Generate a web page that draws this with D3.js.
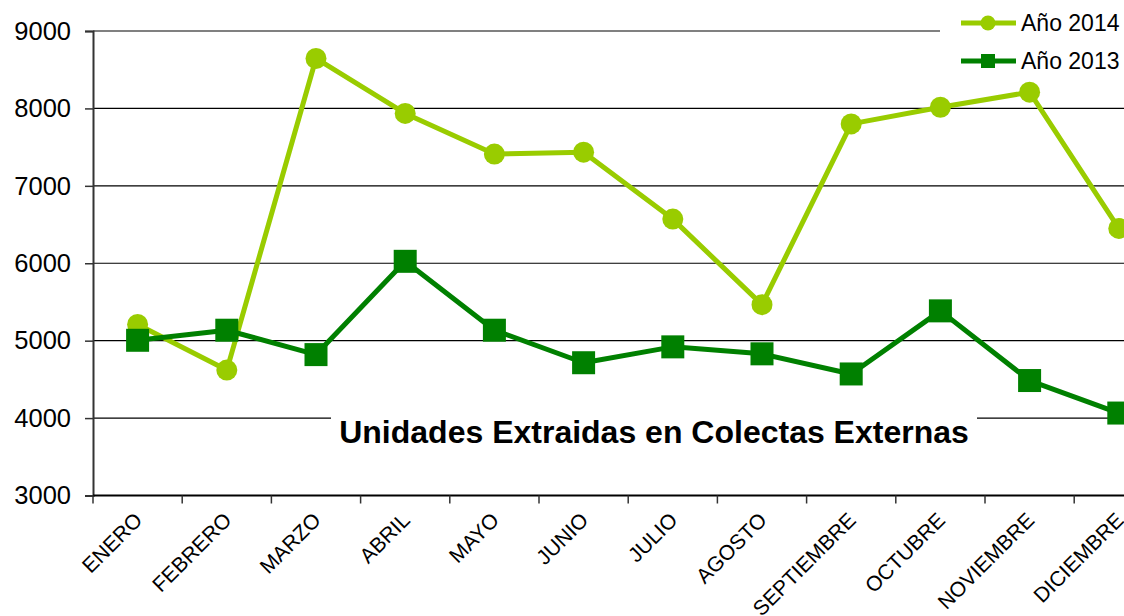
<!DOCTYPE html>
<html>
<head>
<meta charset="utf-8">
<script src="https://cdn.jsdelivr.net/npm/d3@7"></script>
<style>
  body { margin: 0; background: #fff; }
  svg { display: block; font-family: "Liberation Sans", Arial, sans-serif; }
</style>
</head>
<body>
<svg id="chart" width="1124" height="616"></svg>
<script>
var months = ['ENERO', 'FEBRERO', 'MARZO', 'ABRIL', 'MAYO', 'JUNIO', 'JULIO',
    'AGOSTO', 'SEPTIEMBRE', 'OCTUBRE', 'NOVIEMBRE', 'DICIEMBRE'];
var values2014 = [5210, 4620, 8645, 7935, 7410, 7435, 6570, 5465, 7800, 8015, 8210, 6450];
var values2013 = [5005, 5135, 4820, 6025, 5135, 4715, 4920, 4830, 4570, 5385, 4485, 4065];
var yTicks = [3000, 4000, 5000, 6000, 7000, 8000, 9000];
var seriesNames = ['Año 2014', 'Año 2013'];
var chartTitle = 'Unidades Extraidas en Colectas Externas';

var LIGHT = '#99cc00', DARK = '#008000';

var svg = d3.select('#chart');

var x = d3.scaleBand()
    .domain(months)
    .range([93, 93 + 12 * 89.2]);

var y = d3.scaleLinear()
    .domain([3000, 9000])
    .range([495.5, 31]);

// grid lines (the top one is grey and stops before the legend)
svg.append('g')
    .selectAll('line')
    .data(yTicks.filter(d => d > 3000))
    .enter()
    .append('line')
    .attr('x1', 93)
    .attr('x2', d => d === 9000 ? 940 : 1124)
    .attr('y1', d => y(d))
    .attr('y2', d => y(d))
    .attr('stroke', d => d === 9000 ? '#808080' : '#000')
    .attr('stroke-width', d => d === 9000 ? 2 : 1.2);

// y axis
var yAxis = d3.axisLeft(y)
    .tickValues(yTicks)
    .tickSize(8)
    .tickFormat(d3.format('d'));

var yG = svg.append('g')
    .attr('transform', 'translate(93,0)')
    .call(yAxis);
yG.select('.domain').attr('stroke', '#333').attr('stroke-width', 2);
yG.selectAll('.tick line').attr('stroke', '#333').attr('stroke-width', 1.5);
yG.selectAll('.tick text')
    .attr('x', -22)
    .attr('font-size', 25.5)
    .attr('font-family', '"Liberation Sans", Arial, sans-serif')
    .attr('fill', '#000');

// x axis
var xTickPos = months.map(m => x(m)).concat([x.range()[1]]);
var xG = svg.append('g');
xG.append('line')
    .attr('x1', 93).attr('x2', 1124)
    .attr('y1', y(3000)).attr('y2', y(3000))
    .attr('stroke', '#000').attr('stroke-width', 2);
xG.selectAll('line.tick')
    .data(xTickPos)
    .enter()
    .append('line')
    .attr('class', 'tick')
    .attr('x1', d => d).attr('x2', d => d)
    .attr('y1', y(3000)).attr('y2', y(3000) + 8)
    .attr('stroke', '#333').attr('stroke-width', 1.5);
xG.selectAll('text')
    .data(months)
    .enter()
    .append('text')
    .attr('transform', d => 'translate(' + (x(d) + x.bandwidth() / 2 + 6) + ',' + (y(3000) + 26) + ') rotate(-45)')
    .attr('text-anchor', 'end')
    .attr('font-size', 21)
    .attr('fill', '#000')
    .text(d => d);

// title sitting on the 4000 grid line
var titleG = svg.append('g');
titleG.append('rect')
    .attr('x', 331).attr('y', 410)
    .attr('width', 646).attr('height', 40)
    .attr('fill', '#fff');
titleG.append('text')
    .attr('x', 654).attr('y', 443)
    .attr('text-anchor', 'middle')
    .attr('font-size', 32)
    .attr('font-weight', 'bold')
    .attr('fill', '#000')
    .text(chartTitle);

var line = d3.line()
    .x((d, i) => x(months[i]) + x.bandwidth() / 2)
    .y(d => y(d));

// 2014 series
svg.append('path')
    .datum(values2014)
    .attr('d', line)
    .attr('fill', 'none')
    .attr('stroke', LIGHT)
    .attr('stroke-width', 5)
    .attr('stroke-linejoin', 'round');
svg.append('g')
    .selectAll('circle')
    .data(values2014)
    .enter()
    .append('circle')
    .attr('cx', (d, i) => x(months[i]) + x.bandwidth() / 2)
    .attr('cy', d => y(d))
    .attr('r', 10.5)
    .attr('fill', LIGHT);

// 2013 series
svg.append('path')
    .datum(values2013)
    .attr('d', line)
    .attr('fill', 'none')
    .attr('stroke', DARK)
    .attr('stroke-width', 5)
    .attr('stroke-linejoin', 'round');
svg.append('g')
    .selectAll('rect')
    .data(values2013)
    .enter()
    .append('rect')
    .attr('x', (d, i) => x(months[i]) + x.bandwidth() / 2 - 11.5)
    .attr('y', d => y(d) - 11.5)
    .attr('width', 23)
    .attr('height', 23)
    .attr('fill', DARK);

// legend
var legend = svg.append('g');
var legendY = [23, 61];
[LIGHT, DARK].forEach(function (c, i) {
    var g = legend.append('g').attr('transform', 'translate(0,' + legendY[i] + ')');
    g.append('line')
        .attr('x1', 961).attr('x2', 1016)
        .attr('stroke', c).attr('stroke-width', 5);
    if (i === 0) {
        g.append('circle').attr('cx', 988).attr('r', 7.5).attr('fill', c);
    } else {
        g.append('rect').attr('x', 981).attr('y', -7).attr('width', 14).attr('height', 14).attr('fill', c);
    }
    g.append('text')
        .attr('x', 1021).attr('y', 8)
        .attr('font-size', 23)
        .attr('fill', '#000')
        .text(seriesNames[i]);
});
</script>
</body>
</html>
